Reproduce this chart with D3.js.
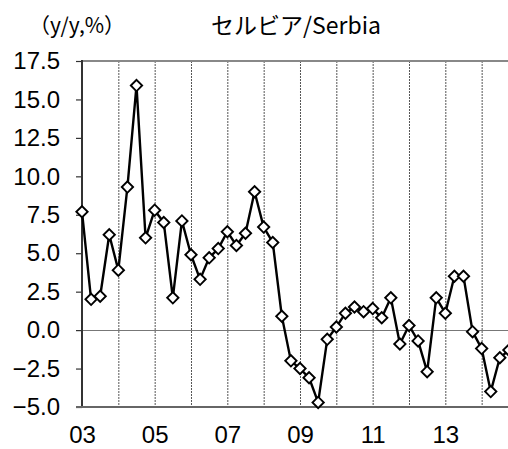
<!DOCTYPE html>
<html><head><meta charset="utf-8">
<script src="https://cdn.jsdelivr.net/npm/d3@7"></script>
<style>body{margin:0;background:#fff}svg{display:block}</style>
</head><body>
<svg id="c" width="508" height="449"></svg>
<script>
const categories = ["03Q1","03Q2","03Q3","03Q4","04Q1","04Q2","04Q3","04Q4","05Q1","05Q2","05Q3","05Q4",
"06Q1","06Q2","06Q3","06Q4","07Q1","07Q2","07Q3","07Q4","08Q1","08Q2","08Q3","08Q4",
"09Q1","09Q2","09Q3","09Q4","10Q1","10Q2","10Q3","10Q4","11Q1","11Q2","11Q3","11Q4",
"12Q1","12Q2","12Q3","12Q4","13Q1","13Q2","13Q3","13Q4","14Q1","14Q2","14Q3","14Q4"];
const values = [7.7,2.0,2.2,6.2,3.9,9.3,15.9,6.0,7.8,7.0,2.1,7.1,
4.9,3.3,4.7,5.3,6.4,5.5,6.3,9.0,6.7,5.7,0.9,-2.0,
-2.5,-3.1,-4.7,-0.6,0.2,1.1,1.5,1.2,1.4,0.8,2.1,-0.9,
0.3,-0.7,-2.7,2.1,1.1,3.5,3.5,-0.1,-1.2,-4.0,-1.8,-1.3];
const gridCats = ["04Q1","05Q1","06Q1","07Q1","08Q1","09Q1","10Q1","11Q1","12Q1","13Q1","14Q1"];
const xTickCats = ["03Q1","05Q1","07Q1","09Q1","11Q1","13Q1"];
const xTickLabels = ["03","05","07","09","11","13"];
const yTicks = [-5.0,-2.5,0.0,2.5,5.0,7.5,10.0,12.5,15.0,17.5];
const title = "セルビア/Serbia";
const unitLabel = "（y/y,%）";

const svg = d3.select("#c");
const mLeft = 82, mTop = 61, mBottom = 407, step = 9.083;
const latin = "Arial, 'Liberation Sans', sans-serif";
const x = d3.scalePoint().domain(categories).range([mLeft, mLeft + step*(categories.length-1)]);
const y = d3.scaleLinear().domain([-5, 17.5]).range([mBottom, mTop]);

// vertical dotted gridlines
svg.append("g").selectAll("line").data(gridCats).join("line")
  .attr("x1", d=>x(d)+0.5).attr("x2", d=>x(d)+0.5).attr("y1", mTop).attr("y2", mBottom)
  .attr("stroke", "#555").attr("stroke-width", 1).attr("stroke-dasharray", "2,1");

// top border
svg.append("line").attr("x1", mLeft).attr("x2", 508).attr("y1", mTop).attr("y2", mTop)
  .attr("stroke", "#888").attr("stroke-width", 2);
// zero line
svg.append("line").attr("x1", mLeft).attr("x2", 508).attr("y1", Math.round(y(0))+0.5).attr("y2", Math.round(y(0))+0.5)
  .attr("stroke", "#777").attr("stroke-width", 1.2);

// y axis
const yAxis = d3.axisLeft(y).tickValues(yTicks).tickSize(6).tickPadding(16).tickFormat(d3.format(".1f"));
const gy = svg.append("g").attr("transform", `translate(${mLeft},0)`).call(yAxis)
  .attr("font-family", latin).attr("font-size", 24);
gy.select(".domain").remove();
gy.selectAll(".tick line").attr("stroke", "#333").attr("stroke-width", 1.2);
gy.selectAll(".tick text").style("font-family", latin).style("font-size", "24px").attr("fill", "#000");
svg.append("line").attr("x1", mLeft).attr("x2", mLeft).attr("y1", mTop-1).attr("y2", mBottom+1)
  .attr("stroke", "#333").attr("stroke-width", 2);
// bottom axis line
svg.append("line").attr("x1", mLeft-6).attr("x2", 508).attr("y1", mBottom).attr("y2", mBottom)
  .attr("stroke", "#666").attr("stroke-width", 2.2);

// x axis labels
const xAxis = d3.axisBottom(x).tickValues(xTickCats).tickSize(0).tickPadding(19)
  .tickFormat(d => xTickLabels[xTickCats.indexOf(d)]);
const gx = svg.append("g").attr("transform", `translate(0,${mBottom})`).call(xAxis)
  .attr("font-family", latin).attr("font-size", 24);
gx.select(".domain").remove();
gx.selectAll(".tick text").style("font-family", latin).style("font-size", "24px").attr("fill", "#000");

// line
const line = d3.line().x((d,i)=>x(categories[i])).y(d=>y(d));
svg.append("path").datum(values).attr("d", line).attr("fill", "none")
  .attr("stroke", "#000").attr("stroke-width", 2.4).attr("stroke-linejoin", "round");

// diamond markers
const sym = d3.symbol().type(d3.symbolSquare).size(64);
svg.append("g").selectAll("path").data(values).join("path")
  .attr("transform", (d,i)=>`translate(${x(categories[i])},${y(d)}) rotate(45)`)
  .attr("d", sym).attr("fill", "#fff").attr("stroke", "#000").attr("stroke-width", 1.9);

// titles
svg.append("text").attr("x", 77).attr("y", 33).attr("text-anchor", "middle")
  .style("font-family", "'Noto Sans CJK JP', sans-serif").style("font-size", "21px").text(unitLabel);
svg.append("text").attr("x", 296).attr("y", 34).attr("text-anchor", "middle")
  .style("font-family", "'Noto Sans CJK JP', sans-serif").style("font-size", "23px").text(title);
</script>
</body></html>
